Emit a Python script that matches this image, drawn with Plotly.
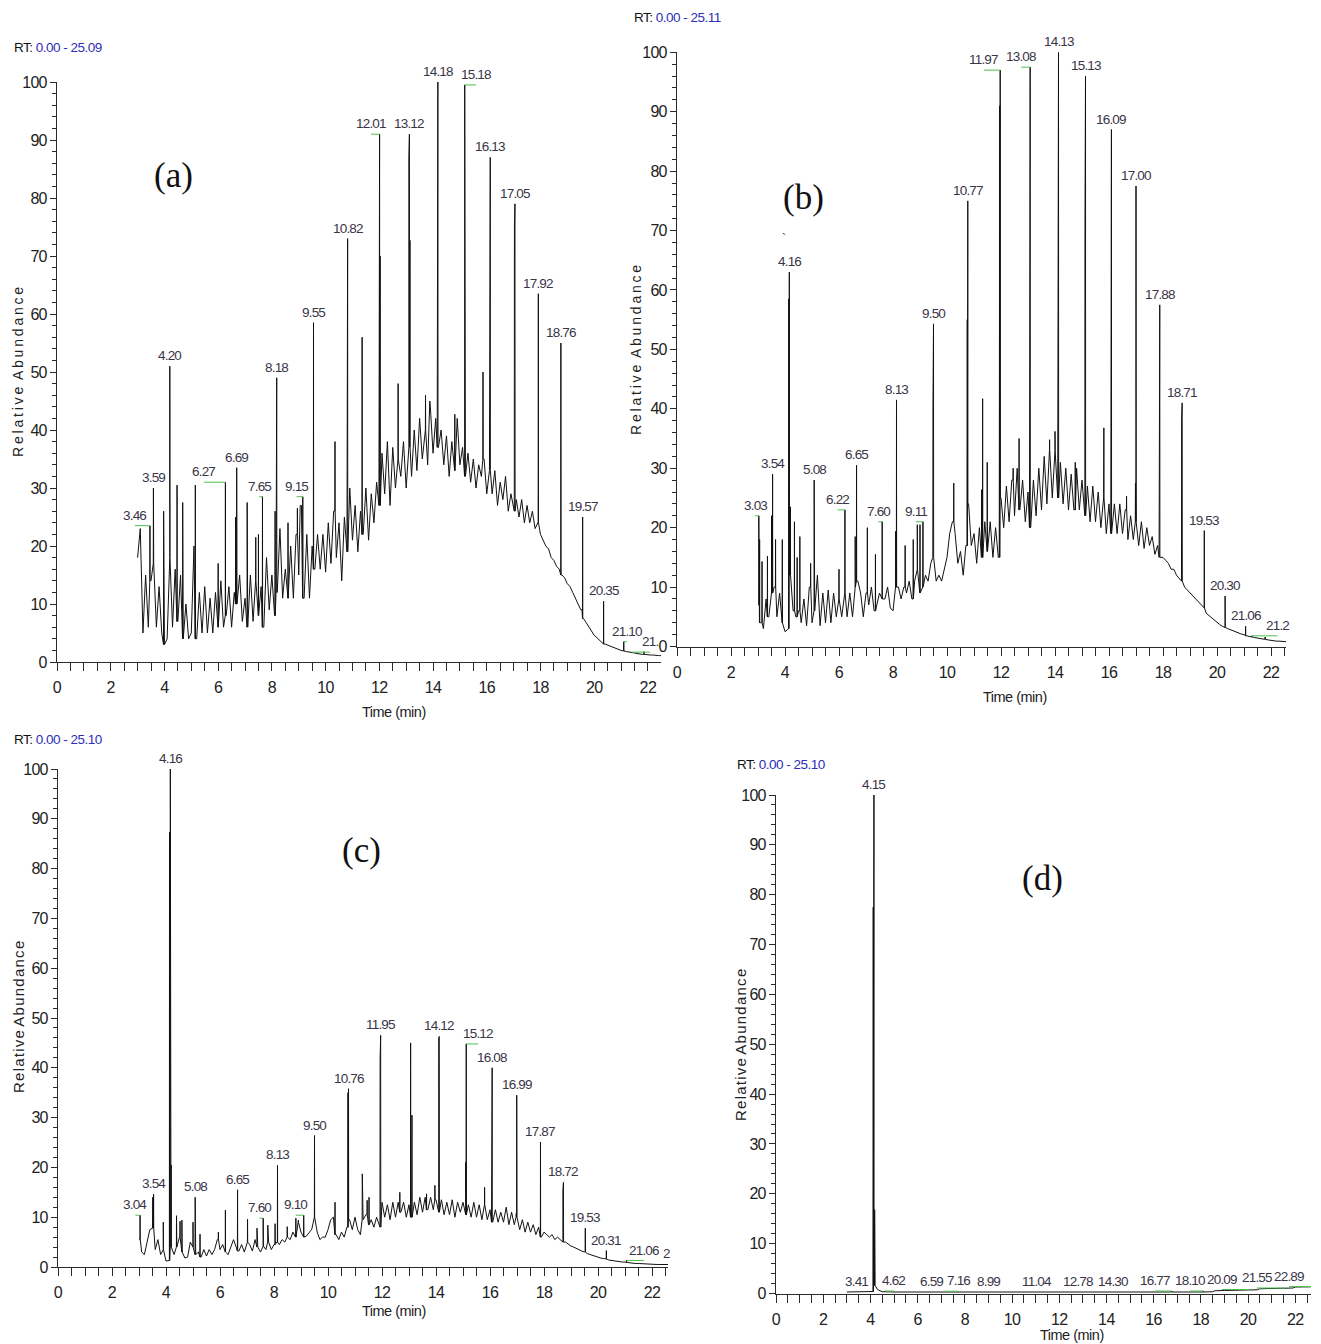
import plotly.graph_objects as go

W, H = 1321, 1344          # target picture size
OFF = 8                    # the page body adds an 8 px margin around the figure
FW, FH = W - OFF, H - OFF  # figure size so that it ends exactly at the window edge

# ------------------------------------------------------------------ data
# Chromatogram background (relative abundance, %), one value every 0.1 min from 3.0 min
base_a = [
    18, 23, 5, 15, 6, 14, 17, 6, 13, 5,
    3, 4, 18, 6, 16, 7, 15, 4, 10, 4,
    5, 20, 4, 12, 5, 13, 5, 11, 5, 12,
    6, 14, 6, 8, 13, 6, 12, 10, 15, 7,
    11, 6, 15, 7, 14, 8, 13, 6, 18, 9,
    15, 8, 12, 23, 11, 16, 11, 20, 11, 22,
    15, 27, 11, 22, 11, 20, 16, 22, 16, 22,
    15.5, 24, 17, 26, 18, 24, 14, 25, 19, 30,
    21, 27, 19, 26, 22, 30, 21, 29, 24, 31,
    27, 36, 29, 38, 27, 37, 30, 35, 32, 38,
    30, 37, 32, 40, 33, 42, 35, 40, 34, 44,
    36, 42, 37, 40, 34, 39, 32, 38, 33, 42,
    34, 37, 32, 36, 31, 35, 30, 34, 32, 35,
    29, 33, 29, 33, 27, 31, 28, 32, 26, 29,
    26, 28, 25, 28, 24, 27, 24, 26, 23, 24,
    22, 21, 20, 19.5, 18, 17.5, 16.5, 16, 15, 14.5,
    13.5, 13, 12, 11, 10, 9, 7.5, 6.8, 6, 5.2,
    4.6, 4.2, 3.8, 3.4, 3.1, 2.9, 2.7, 2.5, 2.3, 2.1,
    2.0, 1.9, 1.8, 1.7, 1.6, 1.5, 1.4, 1.4, 1.3, 1.3,
    1.2, 1.2, 1.2, 1.1, 1.1, 1.1, 1.1,
]
# peaks: (retention time, relative abundance, printed label)
peaks_a = [
    (3.46, 23.5, "3.46"), (3.59, 30, "3.59"), (3.97, 26, None), (4.20, 51, "4.20"),
    (4.47, 30.5, None), (4.68, 27.5, None), (5.15, 30.5, None), (6.00, 17, None),
    (6.27, 31, "6.27"), (6.65, 25, None), (6.69, 33.5, "6.69"), (7.08, 27.5, None),
    (7.40, 21.5, None), (7.50, 22, None), (7.65, 28.5, "7.65"), (8.12, 26, None),
    (8.16, 42, None), (8.18, 49, "8.18"), (8.60, 24, None), (8.95, 26.5, None),
    (9.05, 27, None), (9.15, 28.5, "9.15"), (9.55, 58.5, "9.55"), (10.35, 38, None),
    (10.80, 66, None), (10.82, 73, "10.82"), (11.36, 56, None), (11.99, 87, None),
    (12.01, 91, "12.01"), (12.03, 70, None), (12.70, 48, None), (13.10, 87, None),
    (13.12, 91, "13.12"), (13.14, 72.7, None), (13.72, 46, None), (13.88, 45, None),
    (14.16, 95, None), (14.18, 100, "14.18"), (14.81, 42.7, None), (15.18, 99.5, "15.18"),
    (15.20, 78, None), (15.86, 50, None), (16.11, 82.6, None), (16.13, 87, "16.13"),
    (17.03, 75, None), (17.05, 79, "17.05"), (17.92, 63.5, "17.92"), (18.76, 55, "18.76"),
    (19.55, 20, None), (19.57, 25, "19.57"), (20.35, 10.5, "20.35"), (21.10, 3.5, "21.10"),
    (21.40, 1.7, "21."), (21.85, 1.8, None),
]

base_b = [
    7, 4, 3, 8, 5, 9, 10, 5, 9, 4,
    2.5, 3, 12, 6, 5, 6, 4, 8, 3.5, 10,
    4, 6, 12, 3.5, 9, 4, 9.5, 4, 9, 5,
    8, 5, 9, 5, 9, 5, 10, 11, 9, 5,
    9, 7, 10, 6, 7, 9, 8, 8, 10, 6.5,
    6, 10, 10, 8, 10, 9, 11, 8, 11, 13,
    9, 10, 12, 11, 14, 15, 11, 12, 11, 13,
    15, 19, 21, 19, 14, 16, 12, 17, 24, 17,
    19, 14, 20, 15, 21, 16, 21, 15, 20, 15,
    25, 20, 27, 21, 28, 22, 30, 23, 28, 21,
    26, 20, 28, 22, 30, 23, 32, 24, 33, 25,
    33, 25, 31, 24, 30, 23, 29, 23, 30, 23,
    28, 22, 27, 21, 27, 21, 26, 20, 25, 19,
    24, 19, 24, 19, 24, 19, 23, 18, 22, 18,
    21, 17, 21, 16.5, 20, 17, 18.5, 15.5, 17, 15,
    15, 14.5, 14, 13, 13, 12, 11.5, 11, 10, 9.5,
    9, 8.5, 8, 7.5, 7, 6.5, 5.6, 5.2, 4.8, 4.4,
    4.0, 3.7, 3.4, 3.2, 3.0, 2.8, 2.6, 2.4, 2.2, 2.1,
    2.0, 1.8, 1.7, 1.6, 1.5, 1.4, 1.3, 1.2, 1.2, 1.1,
    1.0, 1.0, 0.9, 0.9, 0.9, 0.8, 0.8,
]
peaks_b = [
    (3.03, 22, "3.03"), (3.06, 18, None), (3.15, 14.3, None), (3.35, 15.2, None),
    (3.50, 22, None), (3.54, 29, "3.54"), (3.65, 18, None), (3.90, 18, None),
    (4.14, 58.5, None), (4.16, 63, "4.16"), (4.20, 23.5, None), (4.35, 21, None),
    (4.45, 15, None), (4.55, 18.5, None), (4.95, 14, None), (5.08, 28, "5.08"),
    (6.00, 13, None), (6.22, 23, "6.22"), (6.60, 18.5, None), (6.65, 30.5, "6.65"),
    (7.05, 20, None), (7.35, 15.5, None), (7.60, 21, "7.60"), (8.10, 19.4, None),
    (8.13, 41.5, "8.13"), (8.45, 17, None), (8.75, 18, None), (8.90, 20.5, None),
    (9.00, 20.5, None), (9.11, 21, "9.11"), (9.48, 40.5, None), (9.50, 54.3, "9.50"),
    (10.25, 27.5, None), (10.75, 55, None), (10.77, 75, "10.77"), (11.28, 26.4, None),
    (11.32, 41.7, None), (11.49, 31, None), (11.94, 65, None), (11.95, 91, None),
    (11.97, 97, "11.97"), (12.45, 30, None), (12.67, 35, None), (13.06, 68, None),
    (13.08, 97.5, "13.08"), (13.80, 34.8, None), (14.00, 36.2, None), (14.11, 68.6, None),
    (14.13, 100, "14.13"), (14.75, 31, None), (15.11, 70.8, None), (15.13, 96, "15.13"),
    (15.81, 36.8, None), (16.07, 32.3, None), (16.09, 87, "16.09"), (16.65, 25.3, None),
    (16.98, 27.5, None), (17.00, 77.5, "17.00"), (17.86, 40.4, None), (17.88, 57.5, "17.88"),
    (18.69, 38.5, None), (18.71, 41, "18.71"), (19.53, 19.5, "19.53"), (20.30, 8.5, "20.30"),
    (21.06, 3.4, "21.06"), (21.29, 1.8, "21.2"), (21.78, 1.6, None),
]

base_c = [
    5.5, 3, 2.5, 5, 7.5, 7.8, 3.5, 5.5, 2.5, 3.5,
    1.2, 1.3, 4, 2.5, 4, 6, 3, 1.8, 2, 5,
    4, 2.5, 3, 2, 3.5, 2.2, 3.5, 2.5, 3.5, 5.5,
    3.5, 4.5, 3, 2.5, 4, 5.5, 4, 3.2, 4.5, 3,
    5, 4.5, 3.2, 5.5, 4, 3, 4.2, 3.5, 5, 3.5,
    4.5, 5, 4.5, 5.5, 5, 6, 5.5, 7, 6, 9,
    7, 6, 6.2, 7, 7.6, 10, 7, 5.5, 6, 6,
    7.5, 9.5, 10, 6.5, 5.5, 7, 6, 8, 9.5, 7.5,
    10, 7.5, 6.5, 9.5, 10.5, 8.5, 9.5, 8, 10, 8,
    13, 10, 12.5, 9.5, 13, 10, 13, 11, 13, 10,
    12.5, 10, 13, 10.5, 14, 11, 14, 11.5, 14, 11.5,
    13.5, 11, 13.5, 10.5, 13, 10.5, 13.5, 10, 13, 11,
    13, 10.5, 12.5, 10, 13, 10, 12.5, 9.5, 12.5, 9.5,
    11.5, 9, 11.5, 9, 11, 9, 12, 8.5, 11, 8.5,
    10, 7.5, 9.5, 7, 9, 7, 8.5, 6.5, 8, 6,
    7, 6.5, 6, 6.5, 5.5, 6, 5.5, 5, 5, 4.5,
    4.2, 4, 3.7, 3.4, 3.2, 3, 2.7, 2.5, 2.3, 2.1,
    2.0, 1.8, 1.7, 1.6, 1.4, 1.3, 1.2, 1.15, 1.1, 1.0,
    1.0, 0.9, 0.8, 0.75, 0.7, 0.7, 0.65, 0.6, 0.6, 0.6,
    0.55, 0.55, 0.5, 0.5, 0.5, 0.5, 0.5,
]
peaks_c = [
    (3.04, 10.4, "3.04"), (3.51, 14, None), (3.54, 14.6, "3.54"), (3.90, 9, None),
    (4.13, 87.3, None), (4.16, 100, "4.16"), (4.19, 20.5, None), (4.39, 10.3, None),
    (4.52, 9.2, None), (4.59, 9.4, None), (5.00, 9, None), (5.08, 14, "5.08"),
    (5.26, 6.6, None), (5.94, 7, None), (6.20, 11.4, None), (6.65, 15.5, "6.65"),
    (7.02, 9.6, None), (7.37, 7.8, None), (7.60, 9.8, "7.60"), (7.77, 8.4, None),
    (8.04, 8.7, None), (8.13, 20.4, "8.13"), (8.49, 8.1, None), (8.81, 9.8, None),
    (8.90, 9.4, None), (9.10, 10.4, "9.10"), (9.50, 26.4, "9.50"), (10.26, 13, None),
    (10.74, 35, None), (10.76, 35.8, "10.76"), (11.27, 18.7, None), (11.45, 13.4, None),
    (11.52, 14, None), (11.93, 41.8, None), (11.95, 46.5, "11.95"), (12.66, 15, None),
    (13.06, 45, None), (13.11, 30.5, None), (13.65, 14.7, None), (13.96, 16.4, None),
    (14.10, 46, None), (14.12, 46.3, "14.12"), (15.10, 21, None), (15.12, 44.8, "15.12"),
    (15.80, 16, None), (16.06, 34.8, None), (16.08, 40, "16.08"), (16.97, 10.7, None),
    (16.99, 34.5, "16.99"), (17.87, 25.1, "17.87"), (18.70, 15.4, None), (18.72, 17, "18.72"),
    (19.53, 7.8, "19.53"), (20.31, 3.3, "20.31"), (21.06, 1.3, "21.06"), (22.55, 0.6, "2"),
]

times_d = [3.0, 3.5, 4.0, 4.1, 4.2, 4.3, 4.4, 4.5, 5.0, 6.0, 7.0, 8.0, 9.0, 10.0, 11.0,
           12.0, 13.0, 14.0, 15.0, 16.0, 17.0, 18.0, 18.5, 18.6, 19.0, 19.5, 20.0, 20.4,
           20.5, 21.0, 21.5, 21.9, 22.0, 22.5, 23.0]
base_d = [0.3, 0.3, 0.3, 0.4, 1.6, 0.8, 0.5, 0.35, 0.3, 0.3, 0.3, 0.3, 0.3, 0.3, 0.3,
          0.3, 0.3, 0.3, 0.3, 0.3, 0.3, 0.3, 0.35, 0.55, 0.6, 0.65, 0.7, 0.75,
          0.95, 1.0, 1.05, 1.1, 1.3, 1.35, 1.4]
peaks_d = [
    (3.41, 0.4, "3.41"), (4.12, 77.5, None), (4.15, 100, "4.15"), (4.18, 16.8, None),
    (4.62, 0.5, "4.62"), (6.59, 0.4, "6.59"), (7.16, 0.45, "7.16"), (8.99, 0.4, "8.99"),
    (11.04, 0.4, "11.04"), (12.78, 0.4, "12.78"), (14.30, 0.4, "14.30"), (16.77, 0.5, "16.77"),
    (18.10, 0.5, "18.10"), (20.09, 0.8, "20.09"), (21.55, 1.1, "21.55"), (22.89, 1.4, "22.89"),
    (23.40, 1.5, "2"),
]

x_tick_labels = ["0", "2", "4", "6", "8", "10", "12", "14", "16", "18", "20", "22"]
y_tick_labels = ["0", "10", "20", "30", "40", "50", "60", "70", "80", "90", "100"]

# label displacement (minutes) used by the software's label placer (drawn with green leader)
shift_a = {"3.46": -0.56, "6.27": -0.8, "7.65": -0.12, "9.15": -0.23, "12.01": -0.32,
           "15.18": 0.42, "21.10": 0.11, "21.": 0.68}
shift_b = {"3.03": -0.14, "6.22": -0.27, "7.60": -0.14, "9.11": -0.26, "11.97": -0.6,
           "13.08": -0.33, "21.2": 0.95}
shift_c = {"3.04": -0.17, "7.60": -0.14, "9.10": -0.29, "15.12": 0.44, "21.06": 0.64}
shift_d = {"4.62": 0.37, "7.16": 0.56, "16.77": -0.7, "18.10": -0.55, "20.09": -1.2,
           "21.55": -1.18, "22.89": -1.15, "2": -0.55}


def grid(n):
    return [round(3.0 + 0.1 * i, 2) for i in range(n)]


PANELS = [
    dict(tag="(a)", times=grid(len(base_a)), base=base_a, peaks=peaks_a, shift=shift_a,
         px=(57, 661), ppm=26.86, py=(82, 662), rt="0.00 - 25.09",
         rt_pos=(12, 47), yt_pos=(18, 372), xt_pos=(394, 712), tag_pos=(173, 175), spaced=True),
    dict(tag="(b)", times=grid(len(base_b)), base=base_b, peaks=peaks_b, shift=shift_b,
         px=(677, 1286), ppm=27.0, py=(52.3, 646.5), rt="0.00 - 25.11",
         rt_pos=(632, 17), yt_pos=(636, 350), xt_pos=(1015, 697), tag_pos=(803, 197), spaced=True),
    dict(tag="(c)", times=grid(len(base_c)), base=base_c, peaks=peaks_c, shift=shift_c,
         px=(58, 668), ppm=27.0, py=(769, 1267), rt="0.00 - 25.10",
         rt_pos=(12, 739), yt_pos=(18, 1017), xt_pos=(394, 1311), tag_pos=(361, 850), spaced=False),
    dict(tag="(d)", times=times_d, base=base_d, peaks=peaks_d, shift=shift_d,
         px=(776, 1311), ppm=23.6, py=(795, 1293.5), rt="0.00 - 25.10",
         rt_pos=(735, 764), yt_pos=(740, 1045), xt_pos=(1072, 1335), tag_pos=(1042, 878), spaced=False),
]

SANS = "Liberation Sans, Arial, sans-serif"
SERIF = "Liberation Serif, Times New Roman, serif"
AX = "#2a2a2a"


def tight(s, ls):
    return f"<span style='letter-spacing:{ls}px'>{s}</span>"


def build(times, base, peaks):
    pts = list(zip(times, base))
    for rt, h, _ in peaks:
        k = min(range(len(times)), key=lambda j: abs(times[j] - rt))
        foot = base[k]
        pts += [(rt - 0.005, foot), (rt, h), (rt + 0.005, foot)]
    pts.sort(key=lambda p: p[0])
    return [p[0] for p in pts], [p[1] for p in pts]


def fx(px):
    return (px - OFF) / FW


def fy(py):
    return 1 - (py - OFF) / FH


fig = go.Figure()
layout = {}
for i, p in enumerate(PANELS, start=1):
    xa = "x" if i == 1 else f"x{i}"
    ya = "y" if i == 1 else f"y{i}"
    xs, ys = build(p["times"], p["base"], p["peaks"])
    fig.add_trace(go.Scatter(x=xs, y=ys, mode="lines", line=dict(color="#111111", width=1),
                             xaxis=xa, yaxis=ya, hoverinfo="skip", showlegend=False))
    gx, gy = [], []
    for rt, h, lab in p["peaks"]:
        if lab is None:
            continue
        sh = p["shift"].get(lab, 0.0)
        lx = rt + sh
        fig.add_annotation(x=lx, y=h, xref=xa, yref=ya, text=tight(lab, -0.8), showarrow=False,
                           xanchor="center", yanchor="bottom", yshift=1,
                           font=dict(family=SANS, size=13.5, color="#3a3446"))
        if sh:
            gx += [lx, rt, None]
            gy += [h, h, None]
    fig.add_trace(go.Scatter(x=gx, y=gy, mode="lines", line=dict(color="#4cc04c", width=1),
                             xaxis=xa, yaxis=ya, hoverinfo="skip", showlegend=False))

    x_rng = (p["px"][1] - p["px"][0]) / p["ppm"]
    xkey = "xaxis" if i == 1 else f"xaxis{i}"
    ykey = "yaxis" if i == 1 else f"yaxis{i}"
    layout[xkey] = dict(
        domain=[fx(p["px"][0]), fx(p["px"][1])], range=[0, x_rng], anchor=ya,
        automargin=False,
        showline=True, linecolor=AX, linewidth=1, ticks="outside", ticklen=8,
        tickcolor=AX, tickwidth=1,
        tickvals=[int(v) for v in x_tick_labels],
        ticktext=[tight(t, -0.6) for t in x_tick_labels],
        tickfont=dict(family=SANS, size=16, color="#222"), ticklabelstandoff=3,
        minor=dict(tickvals=[v / 2 for v in range(0, 46) if v % 4], ticks="outside",
                   ticklen=8, tickcolor=AX, tickwidth=1),
        showgrid=False, zeroline=False, fixedrange=True)
    layout[ykey] = dict(
        domain=[fy(p["py"][1]), fy(p["py"][0])], range=[0, 100], anchor=xa,
        automargin=False,
        showline=True, linecolor=AX, linewidth=1, ticks="outside", ticklen=6,
        tickcolor=AX, tickwidth=1,
        tickvals=[int(v) for v in y_tick_labels],
        ticktext=[tight(t, -0.7) for t in y_tick_labels],
        tickfont=dict(family=SANS, size=16, color="#222"),
        minor=dict(tickvals=[v for v in range(0, 101, 2) if v % 10], ticks="outside",
                   ticklen=4, tickcolor=AX, tickwidth=1),
        showgrid=False, zeroline=False, fixedrange=True)

    # texts
    x, y = p["rt_pos"]
    fig.add_annotation(x=fx(x), y=fy(y), xref="paper", yref="paper", xanchor="left",
                       yanchor="middle", showarrow=False,
                       text=tight("RT: <span style='fill:#2e2eb8'>" + p["rt"] + "</span>", -0.5),
                       font=dict(family=SANS, size=13.5, color="#111"))
    x, y = p["yt_pos"]
    if p["spaced"]:
        ytxt = "\u2009".join("Relative") + " \u2009" + "\u2009".join("Abundance")
        ysz = 14
    else:
        ytxt = "\u200a".join("Relative") + " " + "\u200a".join("Abundance")
        ysz = 15
    fig.add_annotation(x=fx(x), y=fy(y), xref="paper", yref="paper", xanchor="center",
                       yanchor="middle", showarrow=False, textangle=-90, text=ytxt,
                       font=dict(family=SANS, size=ysz, color="#222"))
    x, y = p["xt_pos"]
    fig.add_annotation(x=fx(x), y=fy(y), xref="paper", yref="paper", xanchor="center",
                       yanchor="middle", showarrow=False, text=tight("Time (min)", -0.5),
                       font=dict(family=SANS, size=14.5, color="#222"))
    x, y = p["tag_pos"]
    fig.add_annotation(x=fx(x), y=fy(y), xref="paper", yref="paper", xanchor="center",
                       yanchor="middle", showarrow=False, text=p["tag"],
                       font=dict(family=SERIF, size=35, color="#111"))

# small stray mark in panel (b)
fig.add_annotation(x=fx(784), y=fy(230), xref="paper", yref="paper", showarrow=False, text="`",
                   font=dict(family=SANS, size=12, color="#333"))

fig.update_layout(width=FW, height=FH, margin=dict(l=0, r=0, t=0, b=0),
                  paper_bgcolor="white", plot_bgcolor="white", showlegend=False, **layout)

fig.write_html("out.html")
